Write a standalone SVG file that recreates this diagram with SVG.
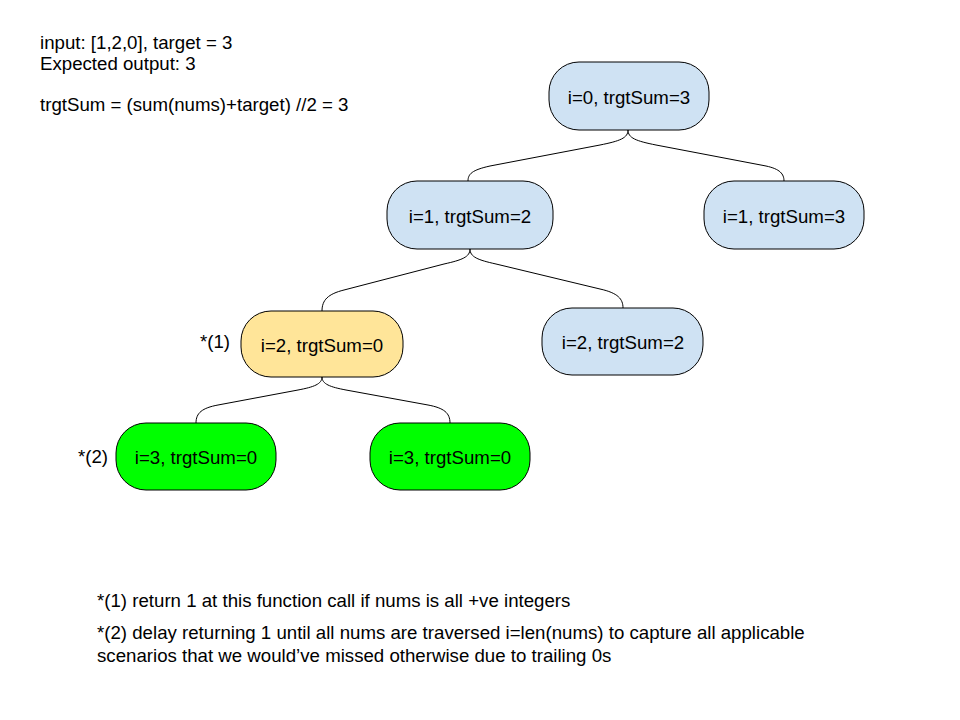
<svg xmlns="http://www.w3.org/2000/svg" width="960" height="720" viewBox="0 0 960 720">
<style>
text{font-family:"Liberation Sans",Arial,sans-serif;fill:#000}
.t{font-size:18.67px}
.n{font-size:18.67px;text-anchor:middle}
.node{stroke:#000;stroke-width:1}
.blue{fill:#cfe2f3}
.yellow{fill:#ffe599}
.green{fill:#00ff00}
.c{fill:none;stroke:#000;stroke-width:1}
</style>
<rect width="960" height="720" fill="#fff"/>
<g id="header">
<text class="t" x="40" y="49">input: [1,2,0], target = 3</text>
<text class="t" x="40" y="70">Expected output: 3</text>
<text class="t" x="40" y="111">trgtSum = (sum(nums)+target) //2 = 3</text>
</g>
<g id="connectors">
<path class="c" d="M628,130 C628,138 620,141 600,145 L490,166 C472,170 468,174 468,181"/>
<path class="c" d="M628,130 C628,138 636,141 656,145 L766,166 C780,169 784,174 784,181"/>
<path class="c" d="M470,249 C470,257 462,260 444,264 L344,290 C328,294 322,300 322,311"/>
<path class="c" d="M470,249 C470,257 478,260 496,264 L600,289 C618,293 623,299 623,308"/>
<path class="c" d="M322,377 C322,384 314,387 298,390 L218,405 C202,408 196,413 196,423"/>
<path class="c" d="M322,377 C322,384 330,387 346,390 L428,405 C444,408 450,413 450,423"/>
</g>
<g id="n0"><rect class="node blue" x="549" y="62" width="160" height="68" rx="30" ry="30"/><text class="n" x="629" y="104">i=0, trgtSum=3</text></g>
<g id="n1"><rect class="node blue" x="387" y="181" width="166" height="68" rx="30" ry="30"/><text class="n" x="470" y="223">i=1, trgtSum=2</text></g>
<g id="n2"><rect class="node blue" x="704" y="181" width="160" height="68" rx="30" ry="30"/><text class="n" x="784" y="223">i=1, trgtSum=3</text></g>
<g id="n3"><rect class="node yellow" x="241" y="311" width="162" height="66" rx="30" ry="30"/><text class="n" x="322" y="352">i=2, trgtSum=0</text></g>
<g id="n4"><rect class="node blue" x="542" y="308" width="161" height="67" rx="30" ry="30"/><text class="n" x="623" y="349">i=2, trgtSum=2</text></g>
<g id="n5"><rect class="node green" x="116" y="423" width="160" height="67" rx="30" ry="30"/><text class="n" x="196" y="464">i=3, trgtSum=0</text></g>
<g id="n6"><rect class="node green" x="370" y="423" width="160" height="67" rx="30" ry="30"/><text class="n" x="450" y="464">i=3, trgtSum=0</text></g>
<g id="marks">
<text class="t" x="200" y="348">*(1)</text>
<text class="t" x="78" y="463">*(2)</text>
</g>
<g id="notes">
<text class="t" x="97" y="607">*(1) return 1 at this function call if nums is all +ve integers</text>
<text class="t" x="97" y="639">*(2) delay returning 1 until all nums are traversed i=len(nums) to capture all applicable</text>
<text class="t" x="97" y="662">scenarios that we would’ve missed otherwise due to trailing 0s</text>
</g>
</svg>
